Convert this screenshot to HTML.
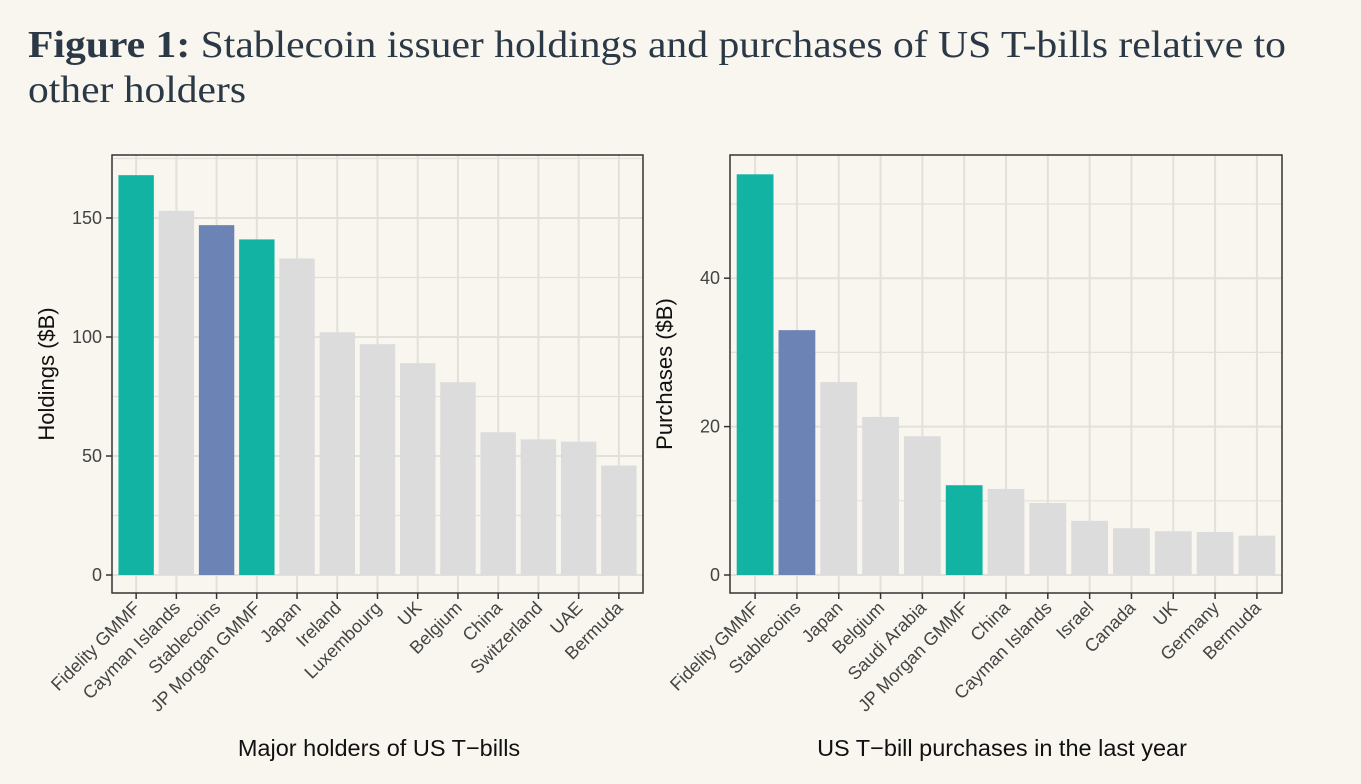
<!DOCTYPE html>
<html><head><meta charset="utf-8">
<style>
body{margin:0;background:#f8f6ef;}
svg{display:block;font-family:"Liberation Sans",sans-serif;}
</style></head>
<body>
<svg id="chart" width="1361" height="784" xmlns="http://www.w3.org/2000/svg">
<rect width="1361" height="784" fill="#f8f6ef"/>
<text x="28" y="57" font-family="Liberation Serif, serif" font-size="38" fill="#2b3845" textLength="1258" lengthAdjust="spacingAndGlyphs"><tspan font-weight="bold">Figure 1:</tspan> Stablecoin issuer holdings and purchases of US T-bills relative to</text>
<text x="28" y="102" font-family="Liberation Serif, serif" font-size="38" fill="#2b3845" textLength="218" lengthAdjust="spacingAndGlyphs">other holders</text>
<g id="left"></g>
<g id="right"></g>
</svg>
<script>
const leftCats=["Fidelity GMMF","Cayman Islands","Stablecoins","JP Morgan GMMF","Japan","Ireland","Luxembourg","UK","Belgium","China","Switzerland","UAE","Bermuda"];
const leftVals=[168,153,147,141,133,102,97,89,81,60,57,56,46];
const leftTicks=[0,50,100,150];
const rightCats=["Fidelity GMMF","Stablecoins","Japan","Belgium","Saudi Arabia","JP Morgan GMMF","China","Cayman Islands","Israel","Canada","UK","Germany","Bermuda"];
const rightVals=[54,33,26,21.3,18.7,12.1,11.6,9.7,7.3,6.3,5.9,5.8,5.3];
const rightTicks=[0,20,40];
const NS="http://www.w3.org/2000/svg";
function mk(tag,attrs,parent){const e=document.createElementNS(NS,tag);for(const k in attrs)e.setAttribute(k,attrs[k]);parent.appendChild(e);return e;}
function colorFor(c){if(c==="Stablecoins")return "#6c84b5";if(c.indexOf("GMMF")>=0)return "#12b3a3";return "#dcdcdc";}
function panel(g,cats,vals,ticks,minorStep,x0,x1,y0,y1,yZero,pxPerUnit,yTitle,xTitle,xTitleX){
  const n=cats.length,unit=(x1-x0)/(n-1+1.2);
  const xs=i=>x0+(0.6+i)*unit;
  const ys=v=>yZero-v*pxPerUnit;
  const maxV=(yZero-y0)/pxPerUnit;
  for(let v=0;v<=maxV;v+=minorStep){
    const l=mk("line",{x1:x0,x2:x1,y1:ys(v),y2:ys(v),stroke:"#e2e0da","stroke-width":ticks.includes(v)?2:1.2},g);
    
    
  }
  cats.forEach((c,i)=>{
    const l=mk("line",{x1:xs(i),x2:xs(i),y1:y0,y2:y1,stroke:"#e2e0da","stroke-width":2},g);
    
    
  });
  cats.forEach((c,i)=>{
    const w=unit*0.88;
    const r=mk("rect",{x:xs(i)-w/2,y:ys(vals[i]),width:w,height:vals[i]*pxPerUnit,fill:colorFor(c)},g);
    
    
    const t=mk("line",{x1:xs(i),x2:xs(i),y1:y1,y2:y1+6,stroke:"#333","stroke-width":1.5},g);
    
    
    const lb=mk("text",{x:xs(i)+5,y:y1+16,"font-size":18,fill:"#444","text-anchor":"end",transform:`rotate(-45 ${xs(i)+5} ${y1+16})`},g);
    lb.textContent=c;
    
    
  });
  ticks.forEach(v=>{
    const t=mk("line",{x1:x0-6,x2:x0,y1:ys(v),y2:ys(v),stroke:"#333","stroke-width":1.5},g);
    
    
    const lb=mk("text",{x:x0-10,y:ys(v)+6,"font-size":18,fill:"#444","text-anchor":"end"},g);
    lb.textContent=v;
    
    
  });
  const b=mk("rect",{x:x0,y:y0,width:x1-x0,height:y1-y0,fill:"none",stroke:"#333","stroke-width":1.5},g);
  
  
  const yt=mk("text",{x:0,y:0,"font-size":22,fill:"#111","text-anchor":"middle",transform:`translate(${x0-58} ${(y0+y1)/2}) rotate(-90)`},g);
  yt.textContent=yTitle;
  
  
  const xt=mk("text",{x:xTitleX,y:756,"font-size":23.5,fill:"#111","text-anchor":"middle"},g);
  xt.textContent=xTitle;
  
  
}
panel(document.getElementById("left"),leftCats,leftVals,leftTicks,25,112,643,155,593,575,2.38,"Holdings ($B)","Major holders of US T\u2212bills",379);
panel(document.getElementById("right"),rightCats,rightVals,rightTicks,10,730,1282,155,593,575,7.42,"Purchases ($B)","US T\u2212bill purchases in the last year",1002);
</script>
</body></html>
